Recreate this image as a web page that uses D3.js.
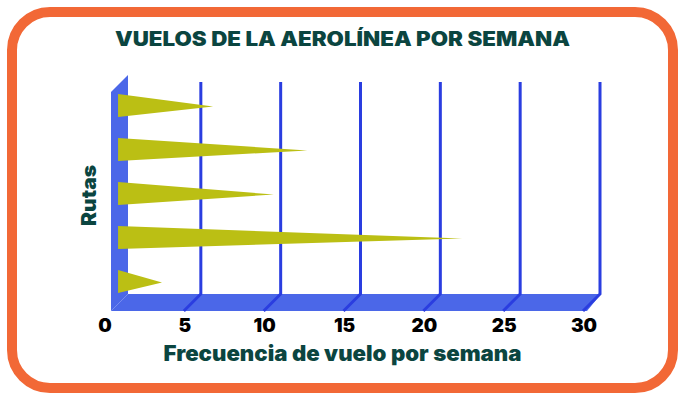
<!DOCTYPE html>
<html>
<head>
<meta charset="utf-8">
<script src="https://cdn.jsdelivr.net/npm/d3@7"></script>
<style>
  body { margin: 0; background: #fff; }
  text { font-family: Inter, "Open Sans", sans-serif; }
</style>
</head>
<body>
<div id="chart"></div>
<script>
// data
const routes = ["Ruta A", "Ruta B", "Ruta C", "Ruta D", "Ruta E"];
const flights = [6.3, 12.2, 10.1, 21.9, 3.1];
const xTicks = [0, 5, 10, 15, 20, 25, 30];

const W = 685, H = 400;
const depth = {dx: 17, dy: -17};

const svg = d3.select("#chart").append("svg")
  .attr("width", W)
  .attr("height", H);

// outer frame
svg.append("rect")
  .attr("x", 12).attr("y", 12)
  .attr("width", 661).attr("height", 376)
  .attr("rx", 38).attr("ry", 38)
  .attr("fill", "none")
  .attr("stroke", "#f26836")
  .attr("stroke-width", 10);

// front plane scales
const x = d3.scaleLinear().domain([0, 30]).range([104, 583]);
const y = d3.scaleBand().domain(routes).range([92, 312]).paddingInner(0).paddingOuter(0);
const floorY = y.range()[1] - 1;

// back plane helpers
const xb = v => x(v) + depth.dx;
const yb = v => v + depth.dy;
// middle plane (where bars sit)
const xm = v => x(v) + depth.dx / 2;
const ym = v => v + depth.dy / 2;

const wallColor = "#4b67e8";
const gridColor = "#2a3de0";

// left wall
const wx = x(0) + 7;
svg.append("path")
  .attr("d", `M${wx},${floorY} L${wx},${y.range()[0]} L${wx + depth.dx},${yb(y.range()[0])} L${wx + depth.dx},${yb(floorY)} Z`)
  .attr("fill", wallColor);

// floor
const fx1 = x(30) + 4;
svg.append("path")
  .attr("d", `M${wx},${floorY} L${fx1},${floorY} L${fx1 + 14},${yb(floorY)} L${wx + depth.dx},${yb(floorY)} Z`)
  .attr("fill", wallColor);

// grid lines: vertical on the back plane + diagonal across the floor
const grid = svg.append("g").attr("stroke", gridColor).attr("stroke-width", 3).attr("fill", "none");
xTicks.filter(d => d > 0).forEach(d => {
  grid.append("path")
    .attr("d", `M${xb(d)},82 L${xb(d)},${yb(floorY)} L${x(d)},${floorY}`);
});

// triangle bars
const barH = 23;
svg.append("g").selectAll("path")
  .data(routes)
  .join("path")
  .attr("fill", "#bbbf14")
  .attr("d", (r, i) => {
    const c = ym(y(r) + y.bandwidth() / 2);
    const x0 = xm(0.35);
    return `M${x0},${c - barH / 2} L${xm(flights[i])},${c + 1} L${x0},${c + barH / 2} Z`;
  });

// x tick labels
svg.append("g").selectAll("text")
  .data(xTicks)
  .join("text")
  .attr("x", d => x(d) + 1)
  .attr("y", 332)
  .attr("text-anchor", "middle")
  .attr("font-size", 19)
  .attr("font-weight", 900)
  .attr("fill", "#000")
  .text(d => d);

// title
svg.append("text")
  .attr("x", 342.5).attr("y", 46)
  .attr("text-anchor", "middle")
  .attr("font-size", 19.5)
  .attr("font-weight", 900)
  .attr("fill", "#0b4540")
  .attr("textLength", 455)
  .attr("lengthAdjust", "spacingAndGlyphs")
  .text("VUELOS DE LA AEROLÍNEA POR SEMANA");

// axis titles
svg.append("text")
  .attr("x", 342.5).attr("y", 361)
  .attr("text-anchor", "middle")
  .attr("font-size", 21)
  .attr("font-weight", 900)
  .attr("fill", "#0b4540")
  .attr("textLength", 358)
  .attr("lengthAdjust", "spacingAndGlyphs")
  .text("Frecuencia de vuelo por semana");

svg.append("text")
  .attr("transform", "translate(96,195.5) rotate(-90)")
  .attr("text-anchor", "middle")
  .attr("font-size", 20)
  .attr("font-weight", 900)
  .attr("fill", "#0b4540")
  .attr("textLength", 61)
  .attr("lengthAdjust", "spacingAndGlyphs")
  .text("Rutas");
</script>
</body>
</html>
